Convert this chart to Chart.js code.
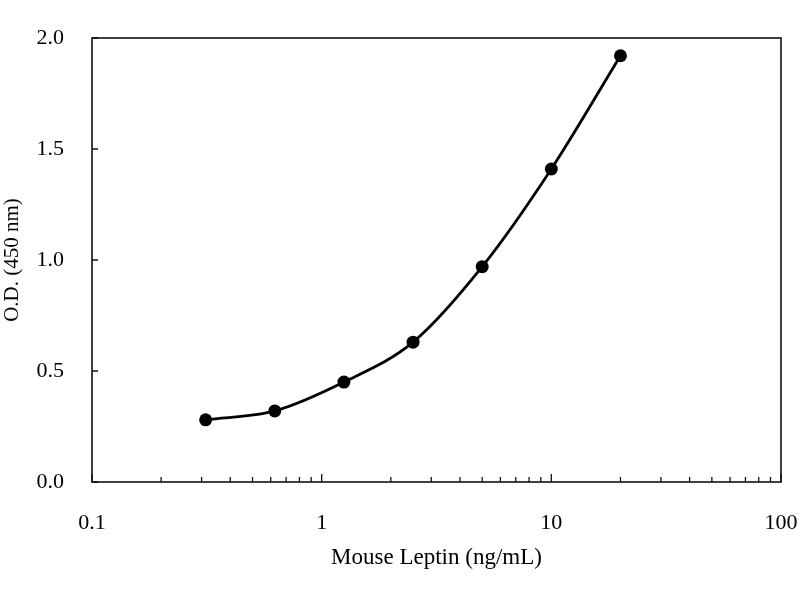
<!DOCTYPE html>
<html>
<head>
<meta charset="utf-8">
<script src="https://cdn.jsdelivr.net/npm/chart.js@4.4.1/dist/chart.umd.min.js"></script>
<style>
  html, body { margin: 0; padding: 0; background: #fff; }
  #wrap { width: 800px; height: 600px; }
</style>
</head>
<body>
<div id="wrap"><canvas id="c" width="800" height="600"></canvas></div>
<script>
// 標準曲線データ
const concentrations = [0.3125, 0.625, 1.25, 2.5, 5, 10, 20];
const odValues = [0.28, 0.32, 0.45, 0.63, 0.97, 1.41, 1.92];

// 軸の目盛り
const xMajorTicks = [0.1, 1, 10, 100];
const xMinorTicks = [0.2, 0.3, 0.4, 0.5, 0.6, 0.7, 0.8, 0.9,
                     2, 3, 4, 5, 6, 7, 8, 9,
                     20, 30, 40, 50, 60, 70, 80, 90];
const yTicks = [0.0, 0.5, 1.0, 1.5, 2.0];

const serif = "'Liberation Serif', 'DejaVu Serif', serif";

/**
 * 枠線と内向きの目盛りを描くプラグイン
 */
const frameTicks = {
    id: "frameTicks",
    afterDraw(chart) {
        const { ctx, chartArea: a, scales } = chart;
        ctx.save();
        ctx.strokeStyle = "#111";
        ctx.lineWidth = 1.6;
        ctx.strokeRect(a.left, a.top, a.right - a.left, a.bottom - a.top);

        ctx.lineWidth = 1.3;
        ctx.beginPath();
        scales.x.ticks.forEach(t => {
            const px = scales.x.getPixelForValue(t.value);
            const len = xMajorTicks.includes(t.value) ? 8 : 5;
            ctx.moveTo(px, a.bottom);
            ctx.lineTo(px, a.bottom - len);
        });
        scales.y.ticks.forEach(t => {
            const py = scales.y.getPixelForValue(t.value);
            ctx.moveTo(a.left, py);
            ctx.lineTo(a.left + 6, py);
        });
        ctx.stroke();
        ctx.restore();
    }
};

const ctx = document.getElementById("c").getContext("2d");
new Chart(ctx, {
    type: "line",
    data: {
        datasets: [{
            data: concentrations.map((c, i) => ({ x: c, y: odValues[i] })),
            borderColor: "#000",
            backgroundColor: "#000",
            borderWidth: 2.8,
            pointRadius: 6.5,
            pointBackgroundColor: "#000",
            pointBorderWidth: 0,
            cubicInterpolationMode: "monotone",
            fill: false,
        }]
    },
    options: {
        responsive: false,
        animation: false,
        layout: { padding: { top: 38, right: 19, left: 0, bottom: 0 } },
        plugins: {
            legend: { display: false },
            tooltip: { enabled: false },
        },
        scales: {
            x: {
                type: "logarithmic",
                min: 0.1,
                max: 100,
                afterBuildTicks: (scale) => {
                    scale.ticks = xMajorTicks.concat(xMinorTicks)
                        .sort((p, q) => p - q)
                        .map(v => ({ value: v, major: xMajorTicks.includes(v) }));
                },
                afterFit: (scale) => {
                    scale.height = 118;
                    scale.paddingLeft = 0;
                    scale.paddingRight = 0;
                },
                grid: { display: false, drawTicks: false },
                border: { display: false },
                ticks: {
                    autoSkip: false,
                    maxRotation: 0,
                    padding: 28,
                    color: "#000",
                    font: { family: serif, size: 22 },
                    callback: (v) => xMajorTicks.includes(v) ? String(v) : "",
                },
                title: {
                    display: true,
                    text: "Mouse Leptin (ng/mL)",
                    color: "#000",
                    font: { family: serif, size: 23 },
                    padding: { top: 4, bottom: 28 },
                },
            },
            y: {
                min: 0,
                max: 2,
                afterBuildTicks: (scale) => {
                    scale.ticks = yTicks.map(v => ({ value: v }));
                },
                afterFit: (scale) => {
                    scale.width = 92;
                    scale.paddingTop = 0;
                    scale.paddingBottom = 0;
                },
                grid: { display: false, drawTicks: false },
                border: { display: false },
                ticks: {
                    padding: 28,
                    color: "#000",
                    font: { family: serif, size: 22 },
                    callback: (v) => Number(v).toFixed(1),
                },
                title: {
                    display: true,
                    text: "O.D. (450 nm)",
                    color: "#000",
                    font: { family: serif, size: 21 },
                    padding: { top: 0, bottom: 0 },
                },
            },
        },
    },
    plugins: [frameTicks],
});
</script>
</body>
</html>
